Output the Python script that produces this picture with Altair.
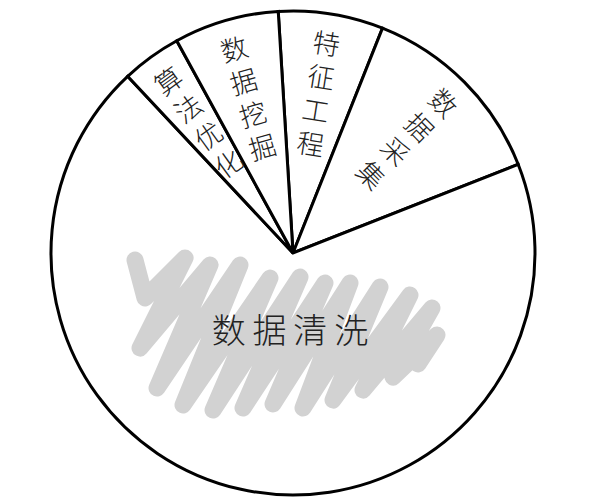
import math
import pandas as pd
import altair as alt

# Data (stacking order, clockwise from the top of the pie)
categories = ["特征工程", "数据采集", "数据清洗", "算法优化", "数据挖掘"]
values = [7, 13, 69, 4, 7]

# rotation of the pie (degrees, clockwise from 12 o'clock)
start_deg = -3.5
total = float(sum(values))
mids = []
acc = start_deg
for v in values:
    span = v / total * 360.0
    mids.append((acc + span / 2.0) % 360.0)
    acc += span

big = categories[values.index(max(values))]
df = pd.DataFrame({
    "category": categories,
    "value": values,
    "ord": list(range(len(categories))),
    "mid": mids,
    "vtext": ["" if c == big else "\n".join(c) for c in categories],
    "htext": ["\u2009".join(c) if c == big else "" for c in categories],
})

FONT = "Noto Sans CJK SC"
theta = alt.Theta(
    "value:Q",
    stack=True,
    scale=alt.Scale(range=[math.radians(start_deg), math.radians(start_deg) + 2 * math.pi]),
)
base = alt.Chart(df).encode(theta=theta, order=alt.Order("ord:Q"))

arcs = base.mark_arc(outerRadius=242, fill="white", stroke="black", strokeWidth=3)

scribble_path = (
    "M-150,-70 L-140,-32 L-100,-72 L-145,18 L-75,-65 L-128,58 L-45,-65 L-102,75 "
    "L-15,-52 L-72,80 L15,-53 L-42,78 L40,-47 L-12,74 L65,-47 L18,78 L95,-43 "
    "L48,70 L125,-35 L78,60 L147,-22 L108,47 L152,5 L133,34"
)
scribble = (
    alt.Chart(df)
    .transform_filter(alt.datum.category == big)
    .mark_point(
        shape=scribble_path, size=4, filled=False, stroke="#d2d2d2",
        strokeWidth=17, strokeCap="round", strokeJoin="round", opacity=1,
    )
    .encode(x=alt.value(285), y=alt.value(321))
)

small_labels = base.mark_text(
    radius=210, font=FONT, fontSize=27, fontWeight=300, lineBreak="\n",
    lineHeight=34, color="#222222", baseline="middle", align="center",
).encode(text="vtext:N", angle=alt.Angle("mid:Q", scale=None))

big_label = base.mark_text(
    radius=82, dx=15, font=FONT, fontSize=34, fontWeight=300,
    color="#222222", baseline="middle", align="center",
).encode(text="htext:N")

chart = (
    alt.layer(arcs, scribble, small_labels, big_label)
    .properties(
        width=586, height=488, autosize="none",
        padding={"left": 0, "top": 9, "right": 0, "bottom": 0},
        background="white",
    )
    .configure_view(stroke=None)
)

chart.save("out.html", embed_options={"renderer": "svg", "actions": False})
